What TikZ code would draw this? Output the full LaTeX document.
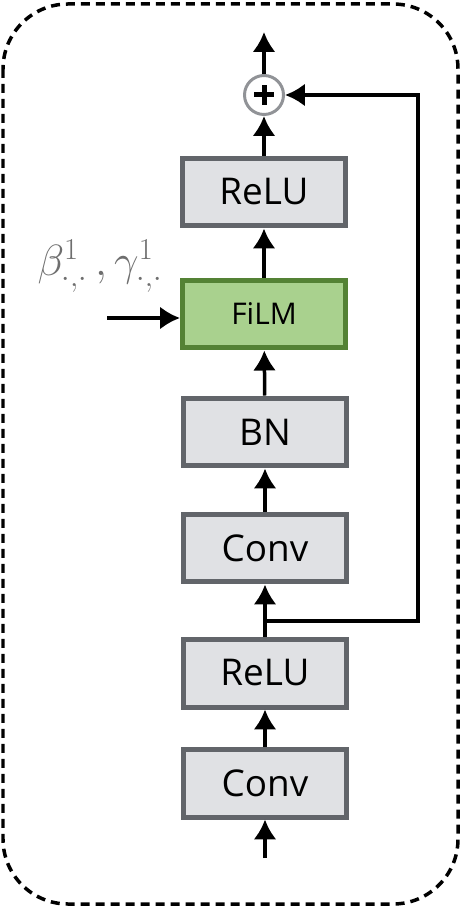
\documentclass[tikz,border=0pt]{standalone}
\usepackage{amsmath,amssymb}
\usepackage{fontspec}
\setsansfont{Open Sans}
\usepackage{tikz}
\usetikzlibrary{arrows.meta,positioning}
\definecolor{layerfill}{RGB}{224,225,228}
\definecolor{layeredge}{RGB}{98,101,106}
\definecolor{filmfill}{RGB}{169,209,142}
\definecolor{filmedge}{RGB}{84,130,53}
\definecolor{labelgray}{RGB}{110,110,110}

\begin{document}
\begin{tikzpicture}[x=0.02cm,y=-0.02cm,
  layer/.style={draw=layeredge,fill=layerfill,line width=0.1cm,minimum width=3.26cm,
    minimum height=1.36cm,inner sep=0pt,font=\sffamily\fontsize{21}{24}\selectfont},
  filmbox/.style={layer,draw=filmedge,fill=filmfill,font=\sffamily\fontsize{17}{20}\selectfont},
  sumnode/.style={circle,draw=layeredge!70,fill=white,line width=0.06cm,minimum size=0.78cm,inner sep=0pt},
  flow/.style={line width=0.07cm,-{Latex[length=0.4cm,width=0.46cm]}}]
\useasboundingbox (0,0) rectangle (462,908);
\draw[line width=0.07cm,dash pattern=on 0.18cm off 0.12cm,rounded corners=1.3cm] (3,4) rectangle (458,904);
% main column
\node[sumnode] (sum) at (264,95) {};
\draw[line width=0.1cm] ([xshift=-0.2cm]sum.center) -- ([xshift=0.2cm]sum.center)
  ([yshift=-0.2cm]sum.center) -- ([yshift=0.2cm]sum.center);
\node[layer] (relu2) at (264,192) {ReLU};
\node[filmbox] (film) at (264,314) {FiLM};
\node[layer] (bn) at (265,432) {BN};
\node[layer] (conv2) at (265,548) {Conv};
\node[layer] (relu1) at (265,673) {ReLU};
\node[layer] (conv1) at (265,783) {Conv};
\coordinate (in) at (265,858);
\coordinate (out) at (264,32);
\coordinate (split) at (265,621);
\coordinate (turn) at (418,621);
\draw[flow] (in) -- (conv1);
\draw[flow] (conv1) -- (relu1);
\draw[flow] (relu1) -- (conv2);
\draw[flow] (conv2) -- (bn);
\draw[flow] (bn) -- (film);
\draw[flow] (film) -- (relu2);
\draw[flow] (relu2) -- (sum);
\draw[flow] (sum) -- (out);
% skip connection
\draw[flow] (split) -- (turn) |- (sum.east);
% conditioning input
\node[text=labelgray,font=\fontsize{25}{28}\selectfont] (cond) at (100,266) {$\beta^1_{\cdot,\cdot}\,,\gamma^1_{\cdot,\cdot}$};
\coordinate (condin) at (107,318);
\draw[flow] (condin) -- (condin -| film.west);
\end{tikzpicture}
\end{document}
